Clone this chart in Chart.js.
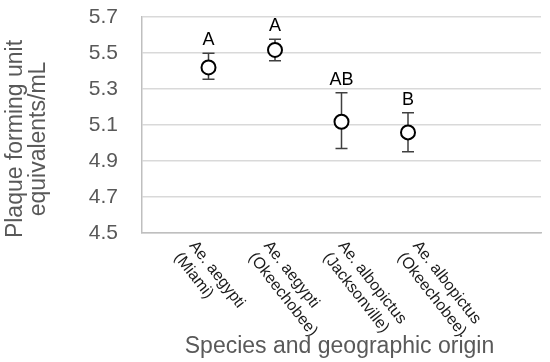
<!DOCTYPE html>
<html lang="en">
<head>
    <meta charset="UTF-8">
    <title>Plaque forming unit equivalents by species</title>
    <style>
        body { margin: 0; background: #fff; }
        canvas { display: block; }
    </style>
    <script src="https://cdn.jsdelivr.net/npm/chart.js"></script>
</head>
<body>
    <canvas id="pfuChart" width="550" height="362"></canvas>

    <script>
        // data
        const categories = [
            ['Ae. aegypti', '(Miami)'],
            ['Ae. aegypti', '(Okeechobee)'],
            ['Ae. albopictus', '(Jacksonville)'],
            ['Ae. albopictus', '(Okeechobee)']
        ];
        const means = [5.42, 5.517, 5.118, 5.059];
        const upper = [5.498, 5.576, 5.279, 5.168];
        const lower = [5.354, 5.457, 4.97, 4.952];
        const letters = ['A', 'A', 'AB', 'B'];
        const yTitle = ['Plaque forming unit', 'equivalents/mL'];
        const xTitle = 'Species and geographic origin';

        const FONT = "'Liberation Sans', Arial, sans-serif";

        // error bars, drawn under the markers
        const errorBars = {
            id: 'errorBars',
            beforeDatasetsDraw(chart) {
                const { ctx, scales: { x, y } } = chart;
                ctx.save();
                ctx.strokeStyle = '#404040';
                ctx.lineWidth = 1.5;
                means.forEach((m, i) => {
                    const px = x.getPixelForValue(i + 1);
                    const top = y.getPixelForValue(upper[i]);
                    const bot = y.getPixelForValue(lower[i]);
                    ctx.beginPath();
                    ctx.moveTo(px, top); ctx.lineTo(px, bot);
                    ctx.moveTo(px - 6, top); ctx.lineTo(px + 6, top);
                    ctx.moveTo(px - 6, bot); ctx.lineTo(px + 6, bot);
                    ctx.stroke();
                });
                ctx.restore();
            }
        };

        // letters, rotated category labels and axis titles
        const textLayer = {
            id: 'textLayer',
            afterDraw(chart) {
                const { ctx, chartArea, scales: { x, y } } = chart;
                ctx.save();

                ctx.fillStyle = '#000';
                ctx.font = '18px ' + FONT;
                ctx.textAlign = 'center';
                ctx.textBaseline = 'alphabetic';
                letters.forEach((l, i) => {
                    ctx.fillText(l, x.getPixelForValue(i + 1), y.getPixelForValue(upper[i]) - 8);
                });

                ctx.font = '16px ' + FONT;
                ctx.fillStyle = '#1a1a1a';
                ctx.textAlign = 'left';
                ctx.textBaseline = 'top';
                categories.forEach((lines, i) => {
                    ctx.save();
                    ctx.translate(x.getPixelForValue(0.85 + 1.12 * i), chartArea.bottom + 5);
                    ctx.rotate(52 * Math.PI / 180);
                    lines.forEach((t, k) => ctx.fillText(t, 0, k * 19));
                    ctx.restore();
                });

                ctx.fillStyle = '#595959';
                ctx.font = '23px ' + FONT;
                ctx.textAlign = 'center';
                ctx.textBaseline = 'alphabetic';
                ctx.fillText(xTitle, (chartArea.left + chartArea.right) / 2 - 2, 353);

                ctx.save();
                ctx.translate(0, 139);
                ctx.rotate(-Math.PI / 2);
                yTitle.forEach((t, k) => ctx.fillText(t, 0, 22 + k * 23));
                ctx.restore();

                ctx.restore();
            }
        };

        new Chart(document.getElementById('pfuChart'), {
            type: 'scatter',
            data: {
                datasets: [{
                    data: means.map((m, i) => ({ x: i + 1, y: m })),
                    pointRadius: 7,
                    pointHoverRadius: 7,
                    pointBorderWidth: 2,
                    pointBackgroundColor: '#fff',
                    pointBorderColor: '#000'
                }]
            },
            options: {
                responsive: false,
                animation: false,
                events: [],
                layout: { padding: { top: 17, right: 6, left: 0, bottom: 0 } },
                plugins: { legend: { display: false }, tooltip: { enabled: false } },
                scales: {
                    x: {
                        type: 'linear',
                        min: 0,
                        max: 6,
                        ticks: { display: false },
                        grid: { color: 'rgba(0,0,0,0)', drawTicks: false },
                        border: { display: true, color: '#bfbfbf', width: 1.5 },
                        afterFit(s) { s.height = 129; }
                    },
                    y: {
                        min: 4.5,
                        max: 5.7,
                        ticks: {
                            stepSize: 0.2,
                            callback: v => v.toFixed(1),
                            font: { family: FONT, size: 21 },
                            color: '#595959',
                            padding: 0
                        },
                        // invisible tick marks push the labels 24px off the axis
                        grid: { color: '#d9d9d9', lineWidth: 1.5, drawTicks: true, tickLength: 24, tickColor: 'rgba(0,0,0,0)' },
                        border: { color: '#bfbfbf', width: 1.5 },
                        afterFit(s) { s.width = 142; }
                    }
                }
            },
            plugins: [errorBars, textLayer]
        });
    </script>
</body>
</html>
